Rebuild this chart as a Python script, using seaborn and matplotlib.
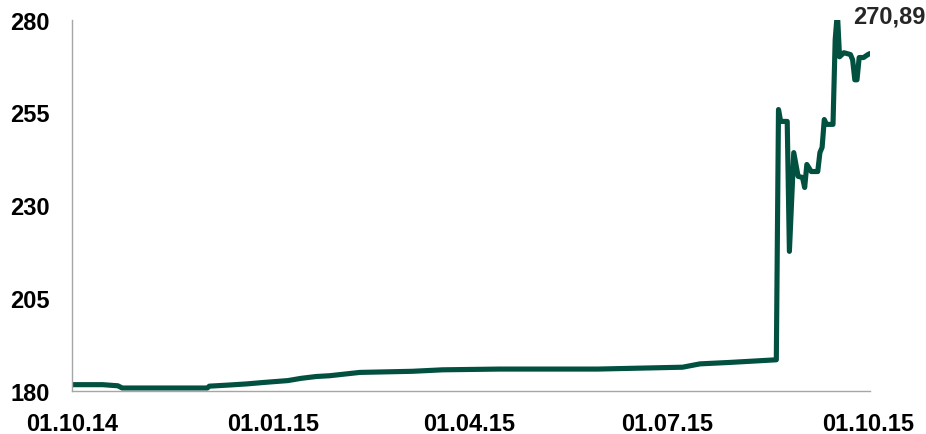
import pandas as pd
import matplotlib
matplotlib.use("Agg")
import matplotlib.pyplot as plt
import matplotlib.dates as mdates
import seaborn as sns

# values
dates = [
    "2014-10-01", "2014-10-15", "2014-10-22", "2014-10-24", "2014-12-02",
    "2014-12-03", "2014-12-12", "2014-12-20", "2014-12-28", "2015-01-08",
    "2015-01-14", "2015-01-21", "2015-01-27", "2015-02-10", "2015-03-06",
    "2015-03-20", "2015-04-15", "2015-05-30", "2015-07-08", "2015-07-16",
    "2015-07-30", "2015-08-20", "2015-08-21", "2015-08-22", "2015-08-25",
    "2015-08-26", "2015-08-28", "2015-08-30", "2015-09-01", "2015-09-02",
    "2015-09-03", "2015-09-05", "2015-09-08", "2015-09-09", "2015-09-10",
    "2015-09-11", "2015-09-12", "2015-09-15", "2015-09-16", "2015-09-17",
    "2015-09-18", "2015-09-20", "2015-09-23", "2015-09-24", "2015-09-25",
    "2015-09-26", "2015-09-27", "2015-09-29", "2015-10-01", "2015-10-02",
]
values = [
    181.7, 181.7, 181.4, 180.8, 180.8,
    181.3, 181.6, 181.9, 182.3, 182.8,
    183.4, 183.9, 184.1, 185.0, 185.3,
    185.7, 185.9, 185.9, 186.4, 187.3,
    187.7, 188.4, 255.8, 252.6, 252.6,
    217.6, 244.2, 237.8, 237.5, 234.8,
    241.0, 239.1, 239.1, 244.2, 245.6,
    253.1, 251.8, 251.8, 274.6, 282.0,
    270.0, 271.1, 270.6, 269.2, 263.8,
    263.8, 269.8, 269.8, 270.6, 270.89,
]
last_label = "270,89"

y_ticks = [180, 205, 230, 255, 280]
x_ticks = ["2014-10-01", "2015-01-01", "2015-04-01", "2015-07-01", "2015-10-01"]

sns.set_style("white")
plt.rcParams["font.family"] = ["Liberation Sans", "DejaVu Sans"]

df = pd.DataFrame({"date": pd.to_datetime(dates), "value": values})

fig = plt.figure(figsize=(9.26, 4.35), dpi=100)
ax = fig.add_axes([0.0778, 0.0989, 0.8618, 0.8536])

sns.lineplot(data=df, x="date", y="value", ax=ax, color="#02503F", linewidth=3.7,
             solid_joinstyle="round", solid_capstyle="round")

ax.set_xlim(pd.Timestamp("2014-10-01"), pd.Timestamp("2015-10-02"))
ax.set_ylim(180, 280)
ax.set_yticks(y_ticks)
ax.set_xticks(pd.to_datetime(x_ticks))
ax.xaxis.set_major_formatter(mdates.DateFormatter("%d.%m.%y"))

ax.set_xlabel("")
ax.set_ylabel("")
for side in ["top", "right"]:
    ax.spines[side].set_visible(False)
for side in ["left", "bottom"]:
    ax.spines[side].set_color("#A6A6A6")
    ax.spines[side].set_linewidth(1.0)

ax.tick_params(axis="both", length=0, labelsize=17, labelcolor="black")
ax.tick_params(axis="y", pad=16)
ax.tick_params(axis="x", pad=15)
for lbl in ax.get_xticklabels() + ax.get_yticklabels():
    lbl.set_fontweight("bold")

# end value label
ax.annotate(last_label, xy=(df["date"].iloc[-1], df["value"].iloc[-1]),
            xytext=(-12, 27), textcoords="offset points",
            ha="left", va="center", fontsize=17, fontweight="bold",
            annotation_clip=False)

fig.savefig("out.png", dpi=100)
